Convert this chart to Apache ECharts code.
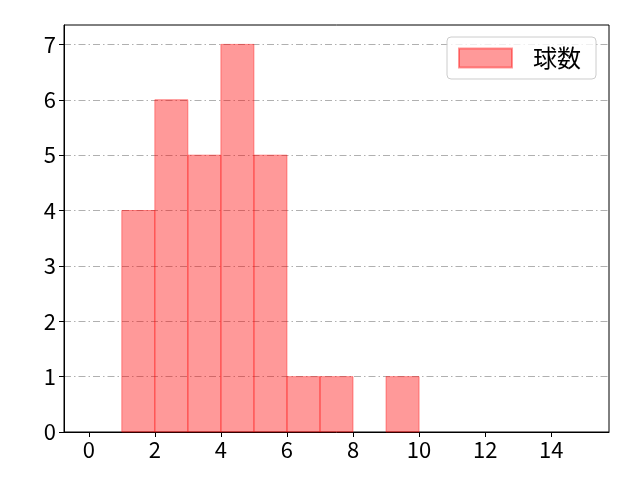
<!DOCTYPE html>
<html>
<head>
<meta charset="utf-8">
<script src="https://cdn.jsdelivr.net/npm/echarts@6/dist/echarts.min.js"></script>
<style>html,body{margin:0;padding:0;background:#fff}#c{width:640px;height:480px}</style>
</head>
<body>
<div id="c"></div>
<script>
const binStarts = [0,1,2,3,4,5,6,7,8,9,10,11,12,13,14];
const binEnds   = [1,2,3,4,5,6,7,8,9,10,11,12,13,14,15];
const counts    = [0,4,6,5,7,5,1,1,0,1,0,0,0,0,0];
const xTicks = [0,2,4,6,8,10,12,14];
const yTicks = [0,1,2,3,4,5,6,7];
const seriesName = '球数';

const FONT = '"Noto Sans CJK JP", "DejaVu Sans", sans-serif';
const fill = 'rgba(255,0,0,0.4)';

const data = binStarts.map((s,i)=>[s, binEnds[i], counts[i]]);

const chart = echarts.init(document.getElementById('c'));
chart.setOption({
  animation: false,
  textStyle: {fontFamily: FONT},
  grid: {left: 64, right: 31, top: 25, bottom: 48, show: true, borderColor: '#000', borderWidth: 1, backgroundColor: 'transparent'},
  legend: {
    data: [{name: seriesName, icon: 'rect'}],
    right: 44, top: 37,
    itemWidth: 53, itemHeight: 19,
    itemGap: 10,
    padding: [9, 15, 9, 11],
    borderColor: '#cccccc', borderWidth: 1, borderRadius: 4,
    backgroundColor: 'rgba(255,255,255,0.8)',
    textStyle: {fontSize: 24, color: '#000', fontFamily: FONT, padding: [0,0,0,16]}
  },
  xAxis: {
    type: 'value', min: -0.75, max: 15.75,
    axisLine: {show: true, onZero: false, lineStyle: {color: '#000'}},
    axisTick: {show: true, length: 5, inside: false, lineStyle: {color: '#000'}, customValues: xTicks},
    axisLabel: {fontSize: 22, color: '#000', margin: 7, customValues: xTicks},
    splitLine: {show: false}
  },
  yAxis: {
    type: 'value', min: 0, max: 7.35, interval: 1,
    axisLine: {show: true, onZero: false, lineStyle: {color: '#000'}},
    axisTick: {show: true, length: 5, lineStyle: {color: '#000'}, customValues: yTicks},
    axisLabel: {fontSize: 22, color: '#000', margin: 8, customValues: yTicks},
    splitLine: {show: true, lineStyle: {color: '#b0b0b0', width: 1, type: [7, 3, 1.5, 3]}}
  },
  series: [{
    name: seriesName,
    type: 'custom',
    itemStyle: {color: fill, borderColor: fill, borderWidth: 1},
    encode: {x: [0, 1], y: 2},
    data: data,
    renderItem: function(params, api) {
      const x0 = api.value(0), x1 = api.value(1), y = api.value(2);
      if (!y) return null;
      const p0 = api.coord([x0, y]);
      const p1 = api.coord([x1, 0]);
      return {
        type: 'rect',
        shape: {x: p0[0], y: p0[1], width: p1[0]-p0[0], height: p1[1]-p0[1]},
        style: {fill: fill, stroke: fill, lineWidth: 1}
      };
    }
  }]
});
</script>
</body>
</html>
